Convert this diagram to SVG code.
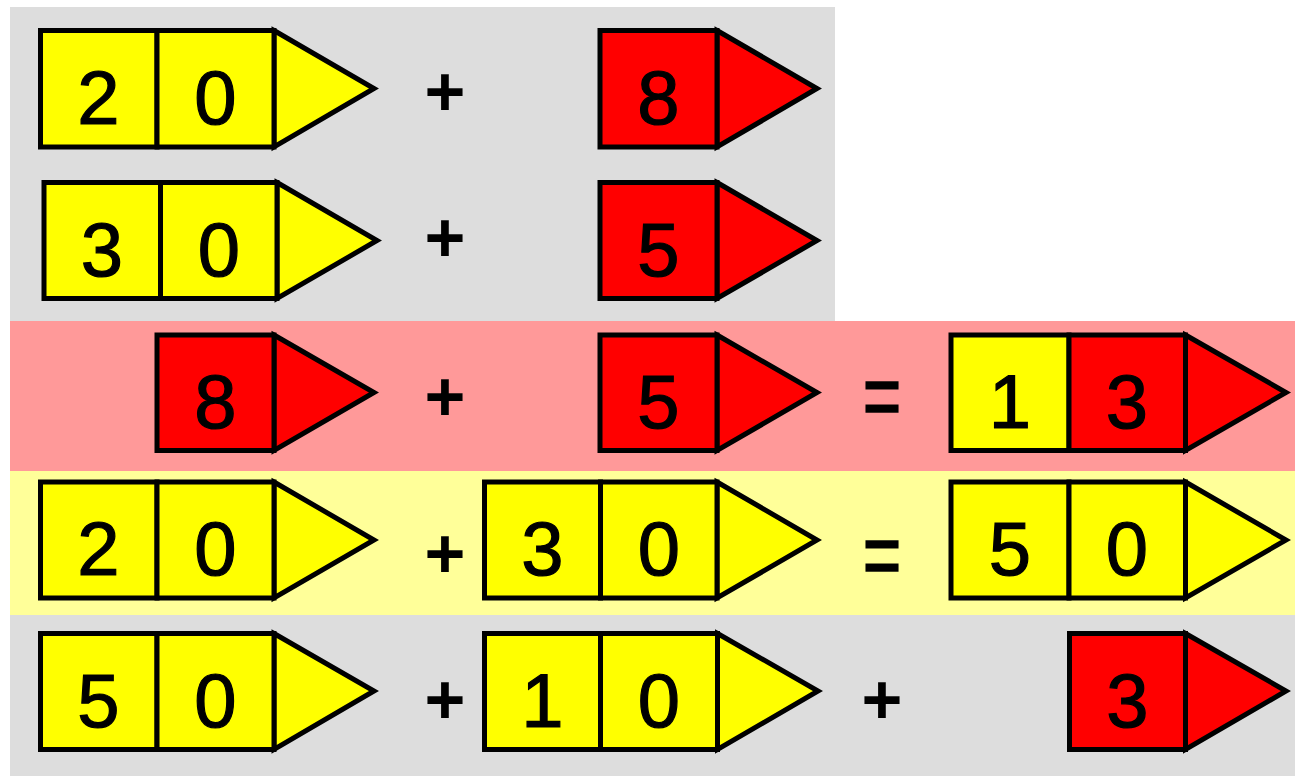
<svg xmlns="http://www.w3.org/2000/svg" width="1295" height="776" viewBox="0 0 1295 776">
<style>
.y{fill:#FFFF00;stroke:#000;stroke-width:5;stroke-linejoin:miter}
.r{fill:#FF0000;stroke:#000;stroke-width:5;stroke-linejoin:miter}
.d{font-family:"Liberation Sans",Arial,sans-serif;font-size:76px;fill:#000;stroke:#000;stroke-width:1.2;text-anchor:middle}
.op{font-family:"Liberation Sans",Arial,sans-serif;font-weight:bold;font-size:70px;fill:#000;text-anchor:middle}
.eq{font-family:"Liberation Sans",Arial,sans-serif;font-size:66px;fill:#000;stroke:#000;stroke-width:1;text-anchor:middle}
</style>
<g id="bands">
<rect x="10" y="7" width="825" height="314" fill="#DDDDDD"/>
<rect x="10" y="321" width="1285" height="150" fill="#FF9999"/>
<rect x="10" y="471" width="1285" height="144" fill="#FFFF99"/>
<rect x="10" y="615" width="1285" height="161" fill="#DDDDDD"/>
</g>
<g id="connectors"></g>
<!-- Row 1 -->
<g id="r1a">
<polygon class="y" points="274,30.5 374,88.5 274,147"/>
<rect class="y" x="40.5" y="30.5" width="116.5" height="116.5"/>
<rect class="y" x="157" y="30.5" width="117" height="116.5"/>
<text class="d" x="98.5" y="123.5">2</text><text class="d" x="215.5" y="123.5">0</text>
</g>
<g id="r1op"><text class="op" x="445" y="116">+</text></g>
<g id="r1b">
<polygon class="r" points="717,30.5 817,88.5 717,147"/>
<rect class="r" x="600" y="30.5" width="117" height="116.5"/>
<text class="d" x="658.5" y="123.5">8</text>
</g>
<!-- Row 2 -->
<g id="r2a">
<polygon class="y" points="277,182.5 377,240.5 277,298.5"/>
<rect class="y" x="44" y="182.5" width="116.5" height="116"/>
<rect class="y" x="160.5" y="182.5" width="116.5" height="116"/>
<text class="d" x="102" y="275.5">3</text><text class="d" x="219" y="275.5">0</text>
</g>
<g id="r2op"><text class="op" x="445" y="262">+</text></g>
<g id="r2b">
<polygon class="r" points="717,182.5 817,240.5 717,298.5"/>
<rect class="r" x="600" y="182.5" width="117" height="116"/>
<text class="d" x="658.5" y="275.5">5</text>
</g>
<!-- Row 3 -->
<g id="r3a">
<polygon class="r" points="274,335 374,392.5 274,450.5"/>
<rect class="r" x="157" y="335" width="117" height="115.5"/>
<text class="d" x="215.5" y="427.5">8</text>
</g>
<g id="r3op"><text class="op" x="445" y="421">+</text></g>
<g id="r3b">
<polygon class="r" points="717,335 817,392.5 717,450.5"/>
<rect class="r" x="600" y="335" width="117" height="115.5"/>
<text class="d" x="658.5" y="427.5">5</text>
</g>
<g id="r3eq"><text class="eq" transform="translate(882,397) scale(1,1.4)" x="0" y="22">=</text></g>
<g id="r3c">
<polygon class="r" points="1185.5,335 1286,392.5 1185.5,450.5"/>
<rect class="y" x="951" y="335" width="118" height="115.5"/>
<rect class="r" x="1069" y="335" width="116.5" height="115.5"/>
<text class="d" x="1010" y="427.5">1</text><text class="d" x="1127" y="427.5">3</text>
</g>
<!-- Row 4 -->
<g id="r4a">
<polygon class="y" points="274,482 374,540 274,598"/>
<rect class="y" x="40.5" y="482" width="116.5" height="116"/>
<rect class="y" x="157" y="482" width="117" height="116"/>
<text class="d" x="98.5" y="575">2</text><text class="d" x="215.5" y="575">0</text>
</g>
<g id="r4op"><text class="op" x="445" y="578">+</text></g>
<g id="r4b">
<polygon class="y" points="717,482 817,540 717,598"/>
<rect class="y" x="484.5" y="482" width="116" height="116"/>
<rect class="y" x="600.5" y="482" width="116.5" height="116"/>
<text class="d" x="542.5" y="575">3</text><text class="d" x="659" y="575">0</text>
</g>
<g id="r4eq"><text class="eq" transform="translate(882,556) scale(1,1.4)" x="0" y="22">=</text></g>
<g id="r4c">
<polygon class="y" points="1185.5,482 1286,540 1185.5,598"/>
<rect class="y" x="951" y="482" width="118" height="116"/>
<rect class="y" x="1069" y="482" width="116.5" height="116"/>
<text class="d" x="1010" y="575">5</text><text class="d" x="1127" y="575">0</text>
</g>
<!-- Row 5 -->
<g id="r5a">
<polygon class="y" points="274,633.5 374,691 274,749.5"/>
<rect class="y" x="40.5" y="633.5" width="116.5" height="116"/>
<rect class="y" x="157" y="633.5" width="117" height="116"/>
<text class="d" x="98.5" y="726.5">5</text><text class="d" x="215.5" y="726.5">0</text>
</g>
<g id="r5op1"><text class="op" x="445" y="724">+</text></g>
<g id="r5b">
<polygon class="y" points="717.5,633.5 818,691 717.5,749.5"/>
<rect class="y" x="484.5" y="633.5" width="116" height="116"/>
<rect class="y" x="600.5" y="633.5" width="117" height="116"/>
<text class="d" x="542.5" y="726.5">1</text><text class="d" x="659" y="726.5">0</text>
</g>
<g id="r5op2"><text class="op" x="882" y="724">+</text></g>
<g id="r5c">
<polygon class="r" points="1185.5,633.5 1286,691 1185.5,749.5"/>
<rect class="r" x="1069.5" y="633.5" width="116" height="116"/>
<text class="d" x="1127.5" y="726.5">3</text>
</g>
</svg>
